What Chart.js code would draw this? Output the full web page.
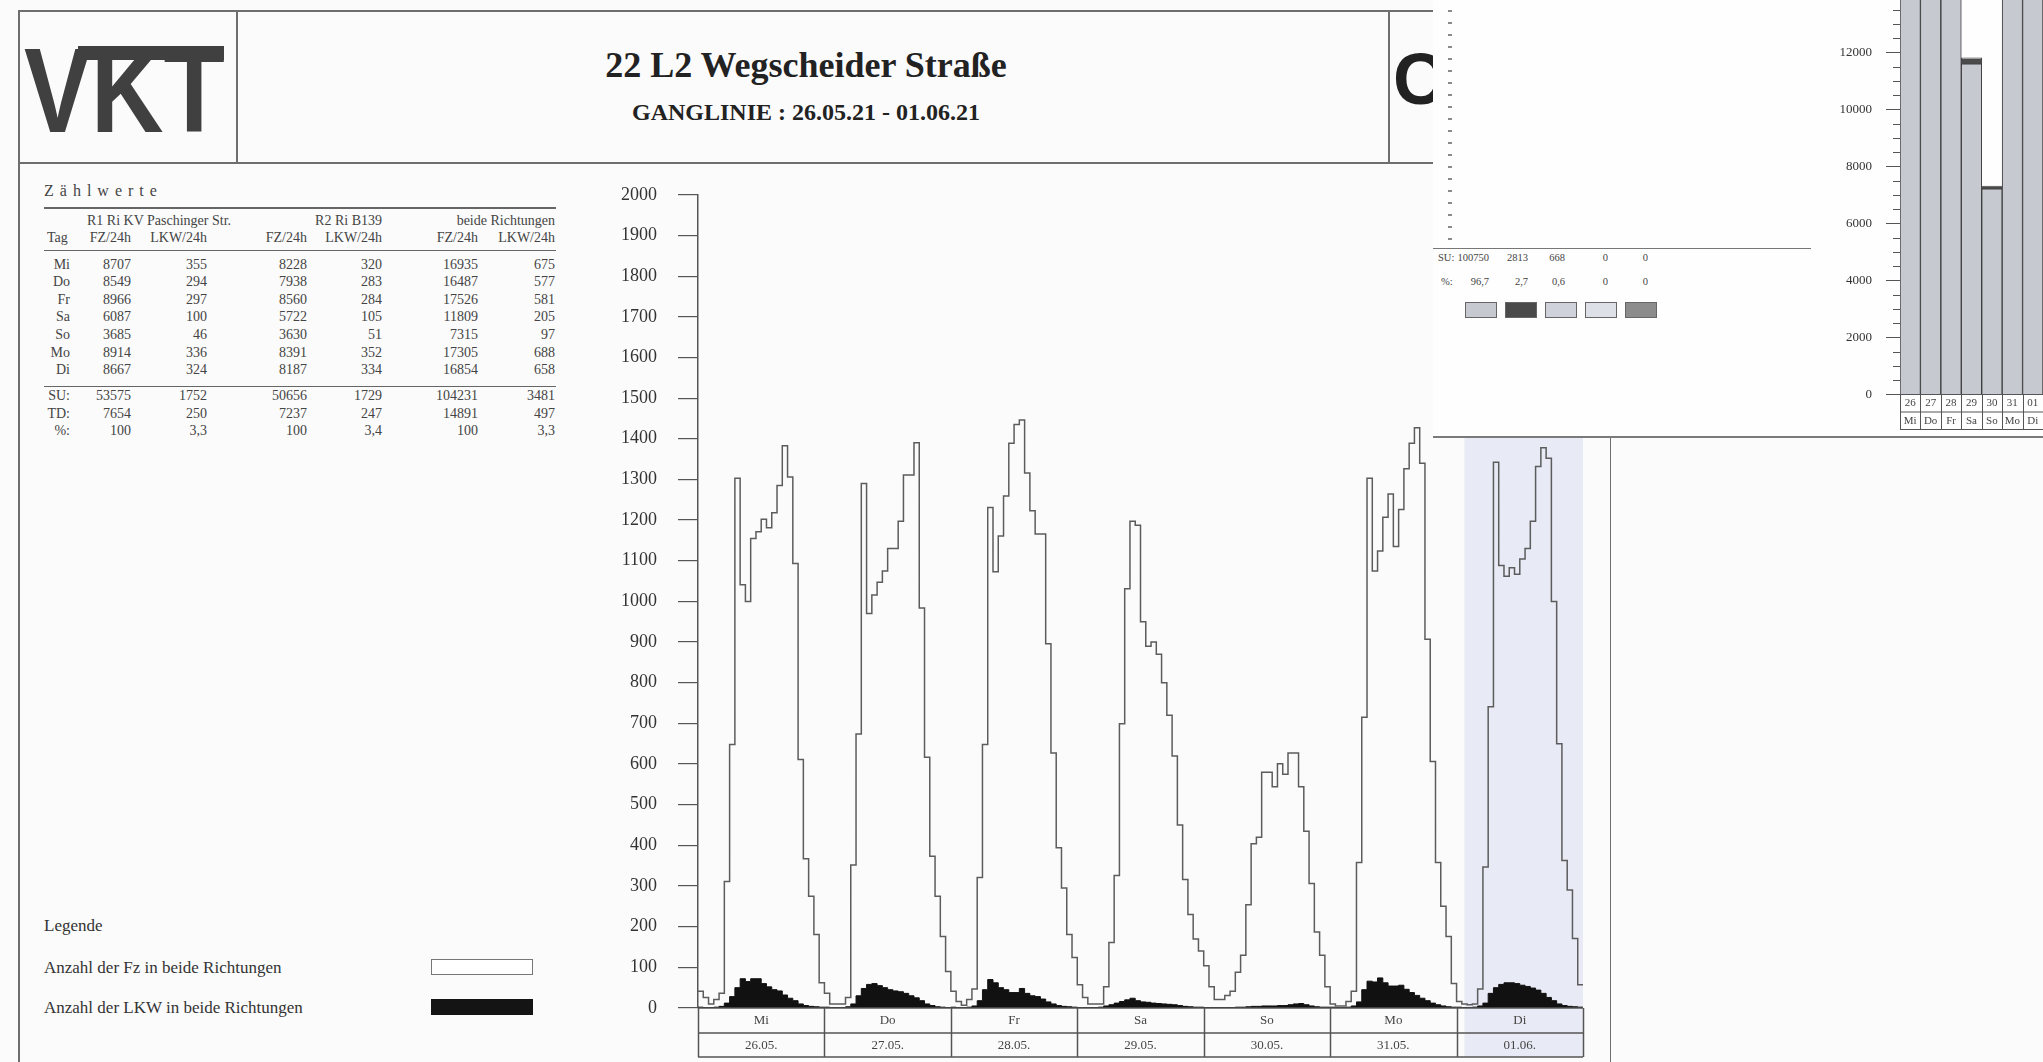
<!DOCTYPE html>
<html lang="de">
<head>
<meta charset="utf-8">
<title>22 L2 Wegscheider Straße – Ganglinie</title>
<script src="https://cdn.jsdelivr.net/npm/chart.js@4.4.1/dist/chart.umd.min.js"></script>
<style>
  html, body { margin: 0; padding: 0; }
  body {
    width: 2043px; height: 1062px; overflow: hidden; position: relative;
    background: #fbfbfb; color: #3a3a3a;
    font-family: "Liberation Serif", "Times New Roman", serif;
  }
  .hl { position: absolute; height: 0; border-top: 2px solid #6e6e6e; }
  .vl { position: absolute; width: 0; border-left: 2px solid #6e6e6e; }
  .t { position: absolute; white-space: nowrap; line-height: 16px; height: 16px; }
  .r { text-align: right; }
  #logo {
    position: absolute; left: 24px; top: 30px; line-height: 1;
    font-family: "Liberation Sans", Arial, sans-serif; font-weight: bold; font-size: 121px;
    color: #404040; transform: scaleX(0.83); transform-origin: left top;
  }
  #logoBar { position: absolute; left: 78px; top: 46px; width: 146px; height: 14px; background: #404040; }
  #logoC {
    position: absolute; left: 1393px; top: 43px; line-height: 1;
    font-family: "Liberation Sans", Arial, sans-serif; font-weight: bold; font-size: 72px; color: #222;
  }
  #title { position: absolute; left: 236px; width: 1140px; top: 47px; text-align: center;
    font-weight: bold; font-size: 36px; line-height: 36px; color: #222; }
  #subtitle { position: absolute; left: 236px; width: 1140px; top: 100px; text-align: center;
    font-weight: bold; font-size: 24px; line-height: 24px; color: #222; }
  #tbl { font-size: 14px; color: #444; }
  #zw { position: absolute; left: 44px; top: 182px; font-size: 16px; letter-spacing: 6px; color: #444; }
  .legend { position: absolute; left: 44px; font-size: 17px; line-height: 20px; color: #333; }
  #ganglinie { position: absolute; left: 600px; top: 163px; }
  #overlay { position: absolute; left: 1433px; top: 0; width: 610px; height: 436px;
    background: #fefefe; border-bottom: 2px solid #7a7a7a; z-index: 5; }
  #tagesSumme { position: absolute; left: 1800px; top: -30px; z-index: 6; }
  #dots { position: absolute; left: 15px; top: 0; width: 4px; height: 245px;
    background: repeating-linear-gradient(to bottom, transparent 0 10px, #8a8a8a 10px 12px); }
  .ov { position: absolute; font-size: 10.5px; line-height: 14px; color: #444; white-space: nowrap; }
  .sw { position: absolute; top: 302px; width: 30px; height: 14px; border: 1px solid #666; }
</style>
</head>
<body>

<!-- Rahmen / Kopf -->
<div class="hl" style="left:18px; top:10px; width:1420px;"></div>
<div class="hl" style="left:18px; top:162px; width:1420px;"></div>
<div class="vl" style="left:18px; top:10px; height:1052px;"></div>
<div class="vl" style="left:236px; top:10px; height:153px;"></div>
<div class="vl" style="left:1388px; top:10px; height:153px;"></div>
<div class="vl" style="left:1610px; top:162px; height:900px; border-left-width:1.5px;"></div>

<div id="logo">VKT</div>
<div id="logoBar"></div>
<div id="logoC">C</div>
<div id="title">22 L2 Wegscheider Straße</div>
<div id="subtitle">GANGLINIE : 26.05.21 - 01.06.21</div>

<div id="zw">Zählwerte</div>
<div id="tbl"></div>

<div class="legend" style="top:916px;">Legende</div>
<div class="legend" style="top:958px;">Anzahl der Fz in beide Richtungen</div>
<div class="legend" style="top:998px;">Anzahl der LKW in beide Richtungen</div>
<div style="position:absolute; left:431px; top:959px; width:100px; height:14px; border:1.5px solid #777; background:#fff;"></div>
<div style="position:absolute; left:431px; top:999px; width:102px; height:16px; background:#141414;"></div>

<canvas id="ganglinie" width="1000" height="899" style="width:1000px;height:899px;"></canvas>

<div id="overlay">
  <div id="dots"></div>
  <div class="hl" style="left:0; top:248px; width:378px; border-top-width:1.5px; border-color:#777;"></div>
  <div id="ovText"></div>
</div>
<canvas id="tagesSumme" width="260" height="466" style="width:260px;height:466px;"></canvas>

<script>
// Tage
const dayNames = ['Mi', 'Do', 'Fr', 'Sa', 'So', 'Mo', 'Di'];
const dayDates = ['26.05.', '27.05.', '28.05.', '29.05.', '30.05.', '31.05.', '01.06.'];
const dayNums = ['26', '27', '28', '29', '30', '31', '01'];

// Stundenwerte Fz (beide Richtungen), 0-23 Uhr
const fzMi = [41, 26, 10, 21, 36, 311, 648, 1303, 1041, 1000, 1155, 1171, 1202, 1181, 1218, 1285, 1383, 1306, 1093, 611, 367, 275, 181, 62];
const fzDo = [36, 10, 10, 10, 26, 352, 674, 1290, 970, 1016, 1047, 1075, 1130, 1130, 1197, 1311, 1311, 1390, 984, 617, 373, 275, 176, 90];
const fzFr = [41, 16, 7, 21, 47, 321, 648, 1231, 1073, 1161, 1259, 1389, 1435, 1446, 1316, 1223, 1166, 1166, 896, 627, 394, 295, 181, 124];
const fzSa = [57, 26, 10, 10, 10, 52, 161, 326, 699, 1031, 1197, 1187, 950, 890, 900, 870, 800, 720, 620, 450, 316, 230, 170, 140];
const fzSo = [104, 52, 21, 21, 31, 41, 88, 130, 254, 404, 420, 580, 580, 544, 601, 575, 627, 627, 544, 435, 306, 187, 130, 52];
const fzMo = [10, 5, 5, 16, 41, 358, 715, 1303, 1075, 1124, 1207, 1264, 1135, 1226, 1326, 1389, 1427, 1340, 907, 606, 358, 250, 176, 60];
const fzDi = [16, 10, 8, 10, 47, 347, 741, 1342, 1088, 1062, 1083, 1067, 1104, 1130, 1197, 1332, 1378, 1352, 1000, 650, 363, 290, 171, 57];

// Stundenwerte LKW (beide Richtungen)
const lkwMi = [2, 1, 1, 2, 4, 12, 28, 50, 72, 65, 72, 72, 60, 52, 45, 42, 32, 24, 18, 10, 6, 4, 3, 2];
const lkwDo = [2, 1, 1, 1, 3, 10, 30, 48, 58, 60, 55, 50, 45, 42, 40, 36, 30, 25, 18, 10, 6, 3, 2, 1];
const lkwFr = [2, 1, 1, 2, 5, 18, 45, 70, 62, 50, 45, 38, 38, 48, 36, 30, 28, 22, 15, 10, 6, 4, 3, 2];
const lkwSa = [1, 1, 1, 1, 2, 5, 8, 12, 16, 20, 24, 18, 15, 14, 12, 11, 10, 9, 8, 6, 4, 3, 2, 2];
const lkwSo = [1, 1, 1, 1, 1, 1, 2, 2, 3, 4, 4, 5, 5, 5, 6, 6, 8, 10, 11, 8, 5, 3, 2, 2];
const lkwMo = [2, 1, 1, 2, 5, 15, 45, 66, 64, 74, 62, 54, 54, 56, 46, 38, 31, 24, 18, 12, 8, 5, 3, 2];
const lkwDi = [2, 1, 1, 2, 5, 12, 36, 50, 58, 62, 62, 60, 56, 53, 49, 44, 36, 26, 18, 10, 6, 4, 3, 2];

// Zählwerte-Tabelle (24h-Summen)
const r1Fz = [8707, 8549, 8966, 6087, 3685, 8914, 8667];
const r1Lkw = [355, 294, 297, 100, 46, 336, 324];
const r2Fz = [8228, 7938, 8560, 5722, 3630, 8391, 8187];
const r2Lkw = [320, 283, 284, 105, 51, 352, 334];
const bothFz = [16935, 16487, 17526, 11809, 7315, 17305, 16854];
const bothLkw = [675, 577, 581, 205, 97, 688, 658];
const sumRows = [
  ['SU:', '53575', '1752', '50656', '1729', '104231', '3481'],
  ['TD:', '7654', '250', '7237', '247', '14891', '497'],
  ['%:', '100', '3,3', '100', '3,4', '100', '3,3']
];

// Tagessummen nach Fahrzeugklassen (Ausschnitt oben rechts)
const klasse1 = [16260, 15910, 16945, 11604, 7218, 16617, 16196];
const klasse2 = [545, 466, 469, 166, 78, 556, 532];
const klasse3 = [130, 111, 112, 39, 19, 132, 126];
const klassenSumme = ['100750', '2813', '668', '0', '0'];
const klassenProzent = ['96,7', '2,7', '0,6', '0', '0'];
const klassenFarben = ['#c7c9d1', '#4a4a4a', '#cfd2da', '#dde0e7', '#8c8c8c'];

// markierter Bereich (Stunden) am Di
const markFrom = 145.5, markTo = 168;

// --- Zählwerte table ---
(function buildTable() {
  const tbl = document.getElementById('tbl');
  const put = (txt, x, y, right) => {
    const d = document.createElement('div');
    d.className = 't' + (right ? ' r' : '');
    d.textContent = txt;
    if (right) { d.style.left = (x - 120) + 'px'; d.style.width = '120px'; }
    else d.style.left = x + 'px';
    d.style.top = (y - 8) + 'px';
    tbl.appendChild(d);
  };
  const rule = (y, w) => {
    const d = document.createElement('div');
    d.style.cssText = `position:absolute;left:44px;width:512px;top:${y}px;height:0;border-top:${w}px solid #666;`;
    tbl.appendChild(d);
  };
  const cols = [131, 207, 307, 382, 478, 555];
  rule(207, 2); rule(250, 1.5); rule(386, 1.5);
  put('R1 Ri KV Paschinger Str.', 207, 221, true);
  put('R2 Ri B139', 382, 221, true);
  put('beide Richtungen', 555, 221, true);
  put('Tag', 47, 238, false);
  ['FZ/24h', 'LKW/24h', 'FZ/24h', 'LKW/24h', 'FZ/24h', 'LKW/24h'].forEach((h, i) => put(h, cols[i], 238, true));
  dayNames.forEach((d, i) => {
    const y = 264.5 + i * 17.6;
    put(d, 70, y, true);
    [r1Fz, r1Lkw, r2Fz, r2Lkw, bothFz, bothLkw].forEach((arr, c) => put(String(arr[i]), cols[c], y, true));
  });
  sumRows.forEach((row, i) => {
    const y = 396 + i * 17.5;
    put(row[0], 70, y, true);
    row.slice(1).forEach((v, c) => put(v, cols[c], y, true));
  });
})();

// --- overlay text ---
(function buildOverlay() {
  const box = document.getElementById('ovText');
  const rightEdges = [56, 95, 132, 175, 215];
  const put = (txt, x, y, right) => {
    const d = document.createElement('div');
    d.className = 'ov';
    d.textContent = txt;
    if (right) { d.style.left = (x - 60) + 'px'; d.style.width = '60px'; d.style.textAlign = 'right'; }
    else d.style.left = x + 'px';
    d.style.top = (y - 7) + 'px';
    box.appendChild(d);
  };
  put('SU:', 5, 258, false);
  put('%:', 8, 282, false);
  klassenSumme.forEach((v, i) => put(v, rightEdges[i], 258, true));
  klassenProzent.forEach((v, i) => put(v, rightEdges[i], 282, true));
  klassenFarben.forEach((c, i) => {
    const s = document.createElement('div');
    s.className = 'sw';
    s.style.left = (32 + i * 40) + 'px';
    s.style.background = c;
    box.appendChild(s);
  });
})();

// --- Ganglinie ---
const fzAll = [].concat(fzMi, fzDo, fzFr, fzSa, fzSo, fzMo, fzDi);
const lkwAll = [].concat(lkwMi, lkwDo, lkwFr, lkwSa, lkwSo, lkwMo, lkwDi);

// each hour value spans [h, h+1], so the last value is repeated at the end
function hourPoints(arr) {
  const pts = arr.map((v, i) => ({ x: i, y: v }));
  pts.push({ x: arr.length, y: arr[arr.length - 1] });
  return pts;
}

const dayTable = {
  id: 'dayTable',
  beforeDatasetsDraw(chart) {
    const { ctx, chartArea: a, scales: { x } } = chart;
    const x0 = x.getPixelForValue(markFrom), x1 = x.getPixelForValue(markTo);
    ctx.save();
    ctx.fillStyle = '#e8eaf5';
    ctx.fillRect(x0, a.top, x1 - x0, a.bottom - a.top + 49);
    ctx.restore();
  },
  afterDraw(chart) {
    const { ctx, chartArea: a, scales: { x } } = chart;
    const y0 = a.bottom, y1 = y0 + 25, y2 = y0 + 49;
    ctx.save();
    ctx.strokeStyle = '#555';
    ctx.lineWidth = 1.5;
    ctx.beginPath();
    [y0, y1, y2].forEach(y => { ctx.moveTo(a.left, y); ctx.lineTo(a.right, y); });
    for (let i = 0; i <= dayNames.length; i++) {
      const px = Math.round(x.getPixelForValue(i * 24)) + 0.5;
      ctx.moveTo(px, y0);
      ctx.lineTo(px, y2);
    }
    ctx.stroke();
    ctx.fillStyle = '#444';
    ctx.font = '13px "Liberation Serif", serif';
    ctx.textAlign = 'center';
    ctx.textBaseline = 'middle';
    dayNames.forEach((d, i) => {
      const cx = x.getPixelForValue(i * 24 + 12);
      ctx.fillText(d, cx, y0 + 13);
      ctx.fillText(dayDates[i], cx, y1 + 12.5);
    });
    ctx.restore();
  }
};

new Chart(document.getElementById('ganglinie'), {
  type: 'line',
  data: {
    datasets: [
      {
        label: 'Anzahl der LKW in beide Richtungen',
        data: hourPoints(lkwAll),
        stepped: true,
        borderColor: '#111',
        borderWidth: 1,
        backgroundColor: '#111',
        fill: 'origin',
        pointRadius: 0,
        order: 1
      },
      {
        label: 'Anzahl der Fz in beide Richtungen',
        data: hourPoints(fzAll),
        stepped: true,
        borderColor: '#5c5c5c',
        borderWidth: 1.5,
        fill: false,
        pointRadius: 0,
        order: 0
      }
    ]
  },
  options: {
    responsive: false,
    maintainAspectRatio: false,
    animation: false,
    layout: { padding: { top: 0, right: 17, bottom: 54, left: 0 } },
    plugins: { legend: { display: false }, tooltip: { enabled: false } },
    scales: {
      x: { type: 'linear', min: 0, max: 168, display: false },
      y: {
        min: 0, max: 2000,
        ticks: {
          stepSize: 100, padding: 21, color: '#333',
          font: { family: '"Liberation Serif", serif', size: 18 },
          callback: v => String(v)
        },
        grid: { drawOnChartArea: false, tickLength: 20, color: '#555', lineWidth: 1.2 },
        border: { color: '#555', width: 1.5 },
        afterFit(scale) { scale.width = 98; }
      }
    }
  },
  plugins: [dayTable]
});

// --- Tagessummen (Ausschnitt) ---
const barExtras = {
  id: 'barExtras',
  afterDraw(chart) {
    const { ctx, chartArea: a, scales: { x, y } } = chart;
    ctx.save();
    ctx.strokeStyle = '#555';
    ctx.lineWidth = 1;
    ctx.beginPath();
    // kleine Zwischenstriche alle 500
    for (let v = 500; v < 14000; v += 500) {
      if (v % 2000 === 0) continue;
      const py = Math.round(y.getPixelForValue(v)) + 0.5;
      ctx.moveTo(a.left - 7, py);
      ctx.lineTo(a.left, py);
    }
    const y0 = a.bottom, y1 = y0 + 17.5, y2 = y0 + 35;
    [y0, y1, y2].forEach(py => { ctx.moveTo(a.left, py); ctx.lineTo(a.right, py); });
    for (let i = 0; i <= dayNums.length; i++) {
      const px = Math.round(a.left + (a.right - a.left) * i / dayNums.length) + 0.5;
      ctx.moveTo(px, y0);
      ctx.lineTo(px, y2);
    }
    ctx.stroke();
    ctx.fillStyle = '#444';
    ctx.font = '11px "Liberation Serif", serif';
    ctx.textAlign = 'center';
    ctx.textBaseline = 'middle';
    dayNums.forEach((d, i) => {
      const cx = x.getPixelForValue(i);
      ctx.fillText(d, cx, y0 + 9);
      ctx.fillText(dayNames[i], cx, y1 + 9);
    });
    ctx.restore();
  }
};

new Chart(document.getElementById('tagesSumme'), {
  type: 'bar',
  data: {
    labels: dayNums,
    datasets: [
      { data: klasse1, backgroundColor: klassenFarben[0], borderColor: '#3c3c3c', borderWidth: 1 },
      { data: klasse2, backgroundColor: klassenFarben[1], borderColor: '#3c3c3c', borderWidth: 0 },
      { data: klasse3, backgroundColor: klassenFarben[2], borderColor: '#3c3c3c', borderWidth: 1 }
    ]
  },
  options: {
    responsive: false,
    maintainAspectRatio: false,
    animation: false,
    layout: { padding: { top: 25.5, right: 17, bottom: 41.5, left: 0 } },
    plugins: { legend: { display: false }, tooltip: { enabled: false } },
    datasets: { bar: { barPercentage: 1, categoryPercentage: 1 } },
    scales: {
      x: { stacked: true, display: false },
      y: {
        stacked: true, min: 0, max: 14000,
        ticks: {
          stepSize: 2000, padding: 14, color: '#333',
          font: { family: '"Liberation Serif", serif', size: 13 },
          callback: v => String(v)
        },
        grid: { drawOnChartArea: false, tickLength: 14, color: '#555' },
        border: { color: '#555', width: 1 },
        afterFit(scale) { scale.width = 100; }
      }
    }
  },
  plugins: [barExtras]
});
</script>
</body>
</html>
